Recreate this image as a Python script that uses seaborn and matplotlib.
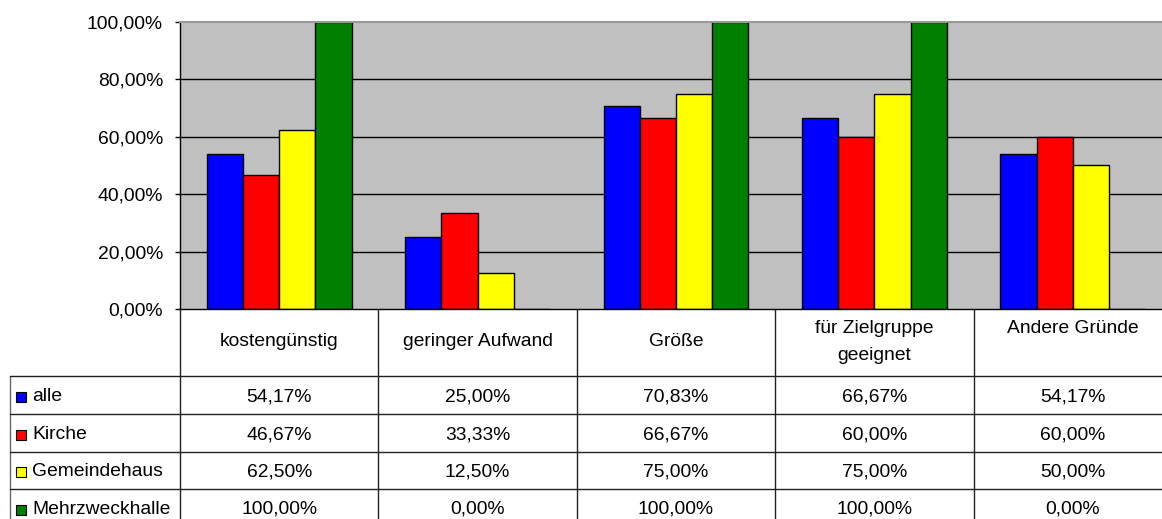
import matplotlib
matplotlib.use("Agg")
import matplotlib.pyplot as plt
import seaborn as sns
import pandas as pd
import numpy as np

categories = ["kostengünstig", "geringer Aufwand", "Größe", "für Zielgruppe\ngeeignet", "Andere Gründe"]
series_names = ["alle", "Kirche", "Gemeindehaus", "Mehrzweckhalle"]
alle = [54.17, 25.00, 70.83, 66.67, 54.17]
kirche = [46.67, 33.33, 66.67, 60.00, 60.00]
gemeindehaus = [62.50, 12.50, 75.00, 75.00, 50.00]
mehrzweckhalle = [100.00, 0.00, 100.00, 100.00, 0.00]
colors = ["#0000FF", "#FF0000", "#FFFF00", "#008000"]
y_ticks = [0, 20, 40, 60, 80, 100]

values = [alle, kirche, gemeindehaus, mehrzweckhalle]
rows = []
for name, vals in zip(series_names, values):
    for c, v in zip(categories, vals):
        rows.append({"Kategorie": c, "Serie": name, "Wert": v})
df = pd.DataFrame(rows)

sns.set_theme(style="white")
plt.rcParams["font.family"] = ["Liberation Sans", "DejaVu Sans"]
FS = 13.9

W, H = 1162, 519
fig = plt.figure(figsize=(W / 100, H / 100), dpi=100)

# pixel layout
left_px, top_px, bottom_px = 180, 22, 309
col_w = 198.4
n = len(categories)
right_px = left_px + n * col_w
leg_left = 10
row_edges = [309, 376, 414, 452, 489, 527]

# table axes (pixel coordinates)
tax = fig.add_axes([0, 0, right_px / W, 1])
tax.set_xlim(0, right_px)
tax.set_ylim(H, 0)
tax.axis("off")
tax.patch.set_alpha(0)

lc = "#222222"
for i in range(n + 1):
    x = left_px + i * col_w
    tax.plot([x, x], [row_edges[0], row_edges[-1]], color=lc, lw=1, clip_on=False)
tax.plot([leg_left, leg_left], [row_edges[1], row_edges[-1]], color="#666666", lw=1, clip_on=False)
for y in row_edges[1:]:
    tax.plot([leg_left, right_px], [y, y], color=lc, lw=1, clip_on=False)

for i, c in enumerate(categories):
    xc = left_px + (i + 0.5) * col_w
    if "\n" in c or c == "Andere Gründe":
        tax.text(xc, 320, c, ha="center", va="top", fontsize=FS, linespacing=1.75, color="black")
    else:
        tax.text(xc, 341, c, ha="center", va="center", fontsize=FS, color="black")

def fmt(v):
    return f"{v:.2f}".replace(".", ",") + "%"

for r, (name, vals, col) in enumerate(zip(series_names, values, colors)):
    yc = (row_edges[r + 1] + row_edges[r + 2]) / 2 + 1.5
    tax.add_patch(plt.Rectangle((16, yc - 5), 10, 10, facecolor=col, edgecolor="black", lw=0.8))
    tax.text(32, yc, name, ha="left", va="center", fontsize=FS, color="black")
    for i, v in enumerate(vals):
        xc = left_px + (i + 0.5) * col_w
        tax.text(xc, yc, fmt(v), ha="center", va="center", fontsize=FS, color="black")

# bar axes
ax = fig.add_axes([left_px / W, 1 - bottom_px / H, (right_px - left_px) / W, (bottom_px - top_px) / H])
sns.barplot(data=df, x="Kategorie", y="Wert", hue="Serie", order=categories,
            hue_order=series_names, palette=colors, width=0.73, saturation=1,
            edgecolor="black", linewidth=1, ax=ax, legend=False)
ax.set_facecolor("#C0C0C0")
ax.set_xlim(-0.5, n - 0.5)
ax.set_ylim(0, 100)
ax.set_yticks(y_ticks)
ax.set_yticklabels([fmt(t) for t in y_ticks], fontsize=FS, color="black")
ax.set_xticks([])
ax.set_xlabel("")
ax.set_ylabel("")
for t in y_ticks[1:-1]:
    ax.axhline(t, color="black", lw=1, zorder=0.5)
ax.set_axisbelow(True)
ax.tick_params(axis="y", left=True, length=3.6, width=1, color="black", pad=8.6)
for s in ["left", "bottom"]:
    ax.spines[s].set_color("black")
    ax.spines[s].set_linewidth(1)
ax.spines["top"].set_color("#999999")
ax.spines["top"].set_linewidth(1.5)
ax.spines["right"].set_visible(False)

fig.savefig("out.png", dpi=100)
